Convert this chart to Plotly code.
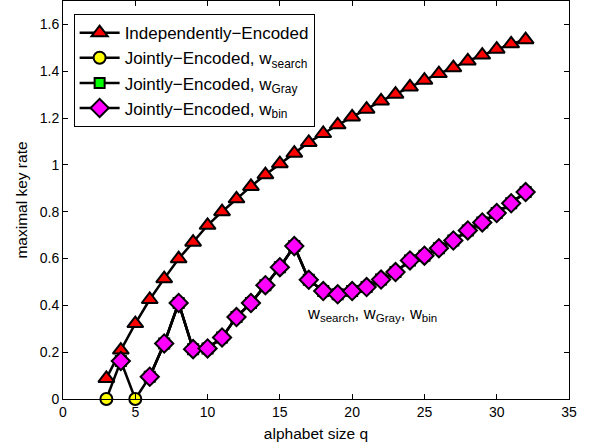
import plotly.graph_objects as go

q_ind = list(range(3, 33))
rate_ind = [0.088, 0.209, 0.322, 0.425, 0.514, 0.599, 0.67, 0.742, 0.80, 0.855,
            0.908, 0.958, 1.005, 1.05, 1.096, 1.134, 1.171, 1.205, 1.238, 1.273,
            1.302, 1.333, 1.362, 1.39, 1.415, 1.444, 1.469, 1.494, 1.517, 1.535]

q_joint = list(range(3, 33))
rate_search = [0.0, 0.162, 0.0, 0.095, 0.237, 0.41, 0.213, 0.216, 0.263, 0.35,
               0.41, 0.486, 0.563, 0.653, 0.509, 0.461, 0.447, 0.461, 0.478, 0.51,
               0.542, 0.592, 0.612, 0.644, 0.677, 0.72, 0.754, 0.794, 0.836, 0.884]
# w_Gray and w_bin coincide with w_search except at q=3 and q=5 (no marker there)
rate_gray = [None, 0.162, None] + rate_search[3:]
rate_bin = [None, 0.162, None] + rate_search[3:]

FONT = "Liberation Sans, Arial, Helvetica, sans-serif"

fig = go.Figure()
fig.add_trace(go.Scatter(
    x=q_ind, y=rate_ind, mode="lines+markers", name="Independently−Encoded",
    legendgroup="a", cliponaxis=False,
    line=dict(color="black", width=2.5),
    marker=dict(symbol="triangle-up", size=14, color="#ff0000",
                line=dict(color="black", width=2))))
fig.add_trace(go.Scatter(
    x=q_joint, y=rate_search, mode="lines+markers",
    name="Jointly−Encoded, w<sub>search</sub>", legendgroup="b", cliponaxis=False,
    line=dict(color="black", width=2.5),
    marker=dict(symbol="circle", size=12, color="#ffff00",
                line=dict(color="black", width=2))))
fig.add_trace(go.Scatter(
    x=q_joint, y=rate_gray, mode="lines+markers",
    name="Jointly−Encoded, w<sub>Gray</sub>", legendgroup="c", cliponaxis=False,
    line=dict(color="black", width=2.5),
    marker=dict(symbol="square", size=10, color="#00ff00",
                line=dict(color="black", width=2))))
fig.add_trace(go.Scatter(
    x=q_joint, y=rate_bin, mode="lines+markers",
    name="Jointly−Encoded, w<sub>bin</sub>", legendgroup="d", cliponaxis=False,
    line=dict(color="black", width=2.5),
    marker=dict(symbol="diamond", size=14, color="#ff00ff",
                line=dict(color="black", width=2))))

fig.add_annotation(
    x=16.75, y=0.365, xref="x", yref="y", xanchor="left", yanchor="middle",
    text="w<sub>search</sub>, w<sub>Gray</sub>, w<sub>bin</sub>",
    showarrow=False, font=dict(family=FONT, size=16.5, color="black"))

axis_common = dict(
    showline=True, linecolor="black", linewidth=1, mirror="ticks",
    ticks="inside", ticklen=5, tickcolor="black", showgrid=False,
    zeroline=False, tickfont=dict(family=FONT, size=14, color="black"),
)

fig.update_layout(
    width=593, height=446,
    margin=dict(l=63, r=24, t=1, b=47),
    paper_bgcolor="white", plot_bgcolor="white",
    font=dict(family=FONT, size=14, color="black"),
    showlegend=True,
    legend=dict(
        x=0.021, y=0.967, xanchor="left", yanchor="top",
        bordercolor="black", borderwidth=1, bgcolor="white",
        font=dict(family=FONT, size=17, color="black"),
        tracegroupgap=0, itemwidth=40,
    ),
    xaxis=dict(range=[0, 35], dtick=5, tick0=0,
               title=dict(text="alphabet size q", standoff=9,
                          font=dict(family=FONT, size=15.5)),
               **axis_common),
    yaxis=dict(range=[0, 1.7], dtick=0.2, tick0=0,
               tickvals=[0, 0.2, 0.4, 0.6, 0.8, 1, 1.2, 1.4, 1.6],
               ticktext=["0", "0.2", "0.4", "0.6", "0.8", "1", "1.2", "1.4", "1.6"],
               title=dict(text="maximal key rate", standoff=8,
                          font=dict(family=FONT, size=15.5)),
               **axis_common),
)

fig.write_html("out.html")
